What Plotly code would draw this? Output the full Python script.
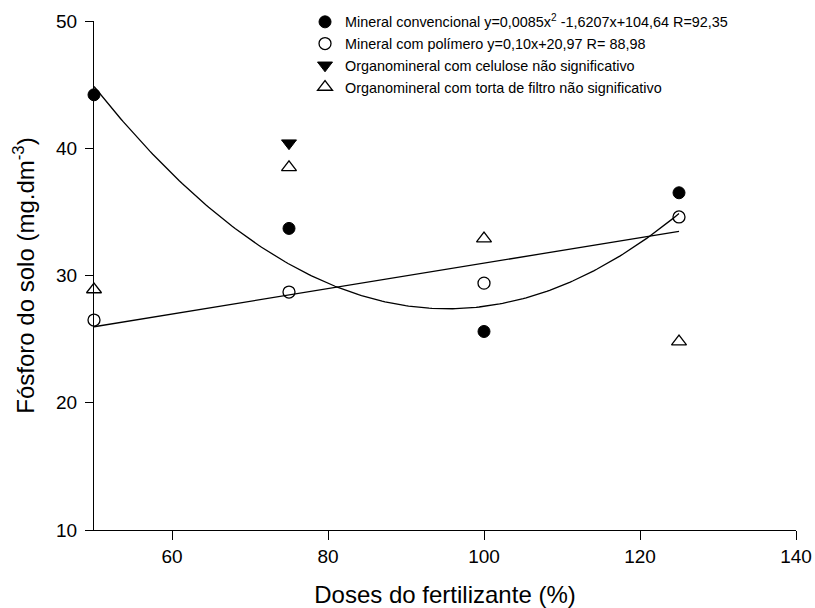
import numpy as np
import plotly.graph_objects as go

doses = [50, 75, 100, 125]
mineral_conv = [44.2, 33.7, 25.6, 36.5]
mineral_pol = [26.5, 28.7, 29.4, 34.6]
org_cel_x = [75]
org_cel = [40.4]
org_torta = [28.9, 38.5, 32.9, 24.8]

quad_coef = [0.0085, -1.6207, 104.64]
lin_coef = [0.10, 20.97]

names = [
    "Mineral convencional y=0,0085x<sup>2</sup> -1,6207x+104,64 R=92,35",
    "Mineral com polímero y=0,10x+20,97 R= 88,98",
    "Organomineral com celulose não significativo",
    "Organomineral com torta de filtro não significativo",
]

FONT = "Arial, Liberation Sans, sans-serif"
xs = np.linspace(doses[0], doses[-1], 200)

fig = go.Figure()
fig.add_trace(go.Scatter(x=xs, y=np.polyval(quad_coef, xs), mode="lines",
                         line=dict(color="black", width=1.3), showlegend=False,
                         cliponaxis=False, hoverinfo="skip"))
fig.add_trace(go.Scatter(x=xs, y=np.polyval(lin_coef, xs), mode="lines",
                         line=dict(color="black", width=1.3), showlegend=False,
                         cliponaxis=False, hoverinfo="skip"))

fig.add_trace(go.Scatter(x=doses, y=mineral_conv, mode="markers", name=names[0],
                         marker=dict(symbol="circle", size=12, color="black",
                                     line=dict(color="black", width=1)),
                         cliponaxis=False))
fig.add_trace(go.Scatter(x=doses, y=mineral_pol, mode="markers", name=names[1],
                         marker=dict(symbol="circle-open", size=12, color="black",
                                     line=dict(color="black", width=1.3)),
                         cliponaxis=False))
fig.add_trace(go.Scatter(x=org_cel_x, y=org_cel, mode="markers", name=names[2],
                         marker=dict(symbol="triangle-down", size=13, color="black",
                                     line=dict(color="black", width=1)),
                         cliponaxis=False))
fig.add_trace(go.Scatter(x=doses, y=org_torta, mode="markers", name=names[3],
                         marker=dict(symbol="triangle-up-open", size=13, color="black",
                                     line=dict(color="black", width=1.3)),
                         cliponaxis=False))

fig.update_layout(
    width=815, height=608,
    paper_bgcolor="white", plot_bgcolor="white",
    margin=dict(l=94, r=19, t=21, b=78, autoexpand=False),
    font=dict(family=FONT, size=16, color="black"),
    showlegend=True,
    legend=dict(x=0.3006, y=1.0295, xanchor="left", yanchor="top",
                bgcolor="rgba(0,0,0,0)", font=dict(size=14.4, family=FONT),
                tracegroupgap=0, itemsizing="trace", itemwidth=30),
    xaxis=dict(range=[50, 140], tickvals=[60, 80, 100, 120, 140],
               showline=True, linecolor="black", linewidth=1.3,
               ticks="outside", ticklen=9, tickwidth=1.3, tickcolor="black",
               showgrid=False, zeroline=False,
               ticklabelstandoff=0, ticklabeloverflow="allow",
               tickfont=dict(size=19),
               title=dict(text="Doses do fertilizante (%)", font=dict(size=24), standoff=21)),
    yaxis=dict(range=[10, 50], tickvals=[10, 20, 30, 40, 50],
               showline=True, linecolor="black", linewidth=1.3,
               ticks="outside", ticklen=8, tickwidth=1.3, tickcolor="black",
               showgrid=False, zeroline=False,
               ticklabelstandoff=4,
               tickfont=dict(size=19),
               title=dict(text="Fósforo do solo (mg.dm<sup>-3</sup>)", font=dict(size=24), standoff=14)),
)

fig.write_html(
    "out.html",
    config={"displayModeBar": False},
    post_script="document.body.style.margin='0';document.body.style.overflow='hidden';",
)
